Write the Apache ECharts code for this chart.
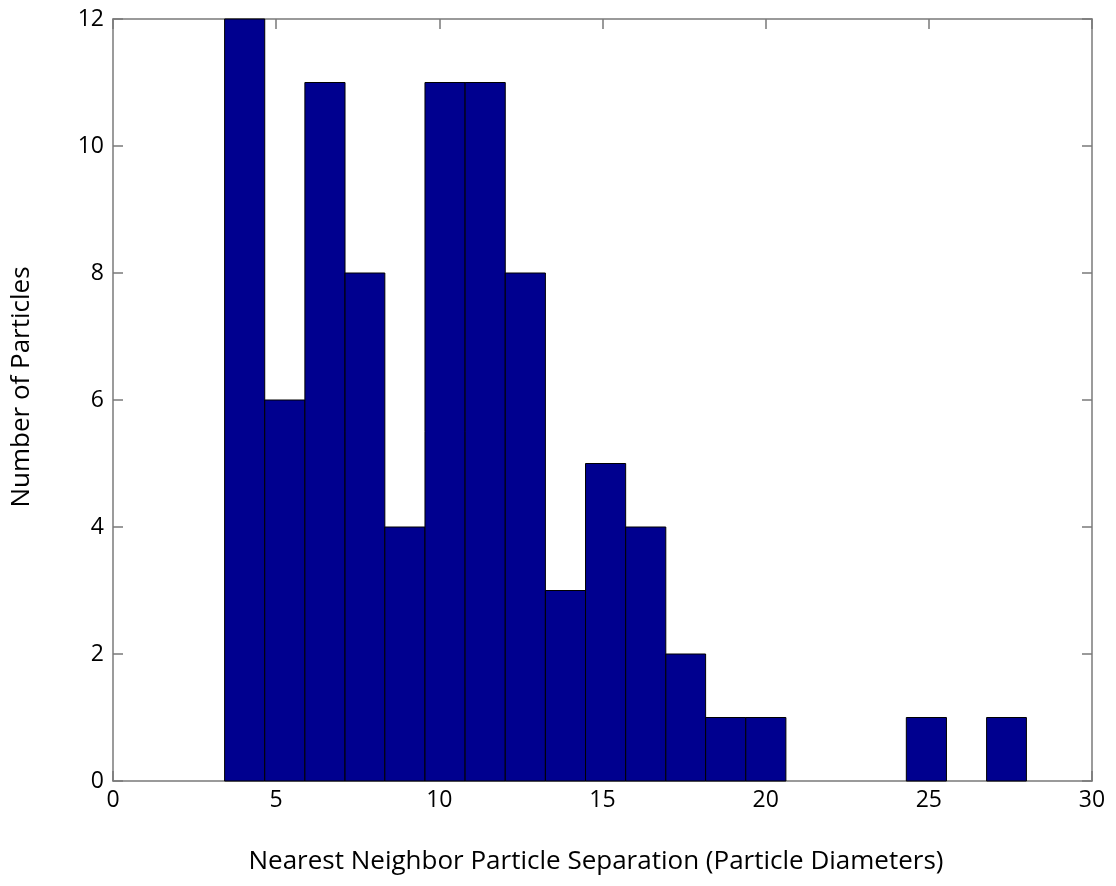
<!DOCTYPE html>
<html>
<head>
<meta charset="utf-8">
<title>Nearest Neighbor Particle Separation</title>
<script src="https://cdn.jsdelivr.net/npm/echarts@6/dist/echarts.min.js"></script>
<style>
  html, body { margin: 0; padding: 0; background: #ffffff; }
  #chart { width: 1116px; height: 886px; }
</style>
</head>
<body>
<div id="chart"></div>
<script>
// Histogram bin edges (particle diameters) and counts per bin
const binEdges = [3.42, 4.65, 5.88, 7.11, 8.33, 9.56, 10.79, 12.02, 13.25, 14.48,
                  15.71, 16.94, 18.16, 19.39, 20.62, 21.85, 23.08, 24.31, 25.54, 26.77, 27.99];
const counts = [12, 6, 11, 8, 4, 11, 11, 8, 3, 5, 4, 2, 1, 1, 0, 0, 0, 1, 0, 1];
const xTicks = [0, 5, 10, 15, 20, 25, 30];
const yTicks = [0, 2, 4, 6, 8, 10, 12];

const xTitle = 'Nearest Neighbor Particle Separation (Particle Diameters)';
const yTitle = 'Number of Particles';

const FONT = '"Open Sans", "Noto Sans", sans-serif';
const AXIS_COLOR = '#7a7a7a';
const BAR_COLOR = '#00008f';

const binData = counts.map((c, i) => [binEdges[i], binEdges[i + 1], c]);

const chart = echarts.init(document.getElementById('chart'), null, { renderer: 'canvas' });

const baseAxisLine = { show: true, onZero: false, lineStyle: { color: AXIS_COLOR, width: 1.5 } };
const baseTick = { show: true, inside: true, length: 10, lineStyle: { color: AXIS_COLOR, width: 1.5 } };

chart.setOption({
  backgroundColor: '#ffffff',
  animation: false,
  grid: { left: 113, top: 19, right: 24, bottom: 105, containLabel: false },
  // axis titles
  graphic: [
    {
      type: 'text',
      x: 596, y: 862,
      style: {
        text: xTitle, fill: '#000', font: '26px ' + FONT,
        align: 'center', verticalAlign: 'middle'
      }
    },
    {
      type: 'text',
      x: 22, y: 387, rotation: Math.PI / 2,
      style: {
        text: yTitle, fill: '#000', font: '26px ' + FONT,
        align: 'center', verticalAlign: 'middle'
      }
    }
  ],
  xAxis: [
    {
      type: 'value', position: 'bottom',
      min: xTicks[0], max: xTicks[xTicks.length - 1], interval: 5,
      axisLine: baseAxisLine, axisTick: baseTick,
      splitLine: { show: false },
      axisLabel: { show: true, margin: 8, color: '#000', fontFamily: FONT, fontSize: 23 }
    },
    {
      type: 'value', position: 'top',
      min: xTicks[0], max: xTicks[xTicks.length - 1], interval: 5,
      axisLine: baseAxisLine, axisTick: baseTick,
      splitLine: { show: false }, axisLabel: { show: false }
    }
  ],
  yAxis: [
    {
      type: 'value', position: 'left',
      min: yTicks[0], max: yTicks[yTicks.length - 1], interval: 2,
      axisLine: baseAxisLine, axisTick: baseTick,
      splitLine: { show: false },
      axisLabel: { show: true, margin: 9, color: '#000', fontFamily: FONT, fontSize: 23 }
    },
    {
      type: 'value', position: 'right',
      min: yTicks[0], max: yTicks[yTicks.length - 1], interval: 2,
      axisLine: baseAxisLine, axisTick: baseTick,
      splitLine: { show: false }, axisLabel: { show: false }
    }
  ],
  series: [
    {
      type: 'custom',
      xAxisIndex: 0, yAxisIndex: 0,
      data: binData,
      encode: { x: [0, 1], y: 2 },
      renderItem: function (params, api) {
        const count = api.value(2);
        if (!count) return null;
        const p0 = api.coord([api.value(0), 0]);
        const p1 = api.coord([api.value(1), count]);
        return {
          type: 'rect',
          shape: { x: p0[0], y: p1[1], width: p1[0] - p0[0], height: p0[1] - p1[1] },
          style: { fill: BAR_COLOR, stroke: '#000000', lineWidth: 1 }
        };
      }
    }
  ]
});
</script>
</body>
</html>
